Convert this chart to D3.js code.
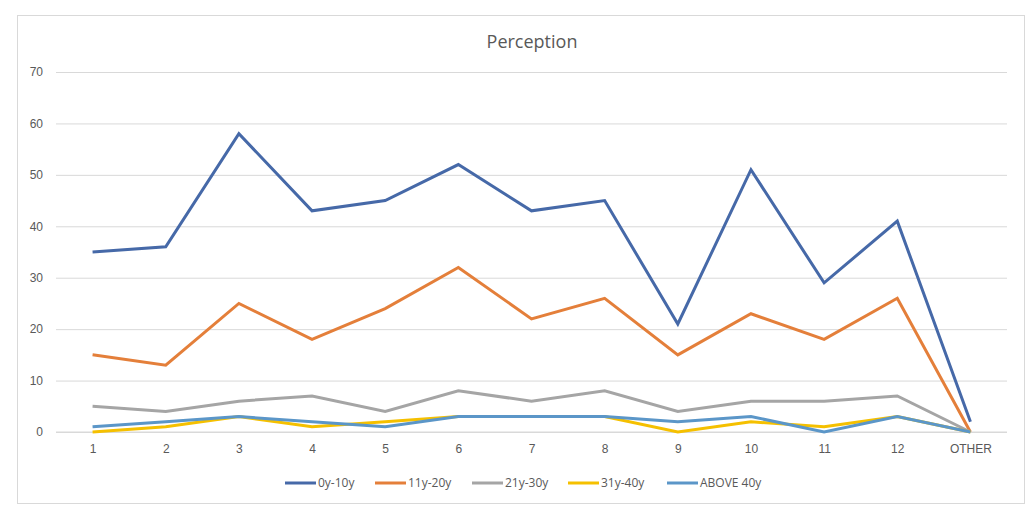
<!DOCTYPE html>
<html>
<head>
<meta charset="utf-8">
<script src="https://cdn.jsdelivr.net/npm/d3@7"></script>
<style>
  body { margin: 0; background: #fff; }
  svg { font-family: "Open Sans", "Liberation Sans", sans-serif; }
</style>
</head>
<body>
<script>
// categories along the x axis
const categories = ["1", "2", "3", "4", "5", "6", "7", "8", "9", "10", "11", "12", "OTHER"];

// series values
const s0to10 = [35, 36, 58, 43, 45, 52, 43, 45, 21, 51, 29, 41, 2];
const s11to20 = [15, 13, 25, 18, 24, 32, 22, 26, 15, 23, 18, 26, 0];
const s21to30 = [5, 4, 6, 7, 4, 8, 6, 8, 4, 6, 6, 7, 0];
const s31to40 = [0, 1, 3, 1, 2, 3, 3, 3, 0, 2, 1, 3, 0];
const sAbove40 = [1, 2, 3, 2, 1, 3, 3, 3, 2, 3, 0, 3, 0];

const seriesNames = ["0y-10y", "11y-20y", "21y-30y", "31y-40y", "ABOVE 40y"];
const yTicks = [0, 10, 20, 30, 40, 50, 60, 70];

const width = 1029;
const height = 506;
const margin = {top: 72, right: 22, bottom: 74, left: 56};

const series = [
    {name: seriesNames[0], values: s0to10, color: "#4669A8"},
    {name: seriesNames[1], values: s11to20, color: "#E47F3A"},
    {name: seriesNames[2], values: s21to30, color: "#A5A5A5"},
    {name: seriesNames[3], values: s31to40, color: "#F5C000"},
    {name: seriesNames[4], values: sAbove40, color: "#5B96C8"}
];

const svg = d3.select("body")
    .append("svg")
    .attr("width", width)
    .attr("height", height);

// chart frame
svg.append("rect")
    .attr("x", 17.5).attr("y", 15.5)
    .attr("width", 1007).attr("height", 488)
    .attr("fill", "#fff")
    .attr("stroke", "#d9d9d9");

const x = d3.scalePoint()
    .domain(categories)
    .range([margin.left, width - margin.right])
    .padding(0.5);

const y = d3.scaleLinear()
    .domain([0, 70])
    .range([height - margin.bottom, margin.top]);

// gridlines + y labels
const yAxis = svg.append("g")
    .attr("transform", "translate(" + margin.left + ",0)")
    .call(d3.axisLeft(y).tickValues(yTicks).tickSize(-(width - margin.left - margin.right)).tickPadding(13))
    .call(function (g) { g.select(".domain").remove(); });
yAxis.selectAll(".tick line").attr("stroke", "#d9d9d9");
yAxis.selectAll("text").attr("fill", "#595959").style("font-size", "12px");

// x labels
const xAxis = svg.append("g")
    .attr("transform", "translate(0," + (height - margin.bottom) + ")")
    .call(d3.axisBottom(x).tickSize(0).tickPadding(12))
    .call(function (g) { g.select(".domain").remove(); });
xAxis.selectAll("text").attr("fill", "#595959").style("font-size", "12px");

// baseline
svg.append("line")
    .attr("x1", margin.left).attr("x2", width - margin.right)
    .attr("y1", y(0)).attr("y2", y(0))
    .attr("stroke", "#d9d9d9");

const line = d3.line()
    .x(function (d, i) { return x(categories[i]); })
    .y(function (d) { return y(d); });

svg.append("g")
    .selectAll("path")
    .data(series)
    .join("path")
    .attr("fill", "none")
    .attr("stroke", function (d) { return d.color; })
    .attr("stroke-width", 3)
    .attr("stroke-linejoin", "miter")
    .attr("d", function (d) { return line(d.values); });

// title
svg.append("text")
    .attr("x", 532)
    .attr("y", 48)
    .attr("text-anchor", "middle")
    .attr("fill", "#595959")
    .style("font-size", "18px")
    .text("Perception");

// legend
const legendX = [285, 375, 472, 568, 667];
const legend = svg.append("g")
    .selectAll("g")
    .data(series)
    .join("g")
    .attr("transform", function (d, i) { return "translate(" + legendX[i] + ",483)"; });

legend.append("line")
    .attr("x1", 0).attr("x2", 31)
    .attr("stroke", function (d) { return d.color; })
    .attr("stroke-width", 3);

legend.append("text")
    .attr("x", 33)
    .attr("dy", "0.35em")
    .attr("fill", "#595959")
    .style("font-size", "12px")
    .text(function (d) { return d.name; });
</script>
</body>
</html>
